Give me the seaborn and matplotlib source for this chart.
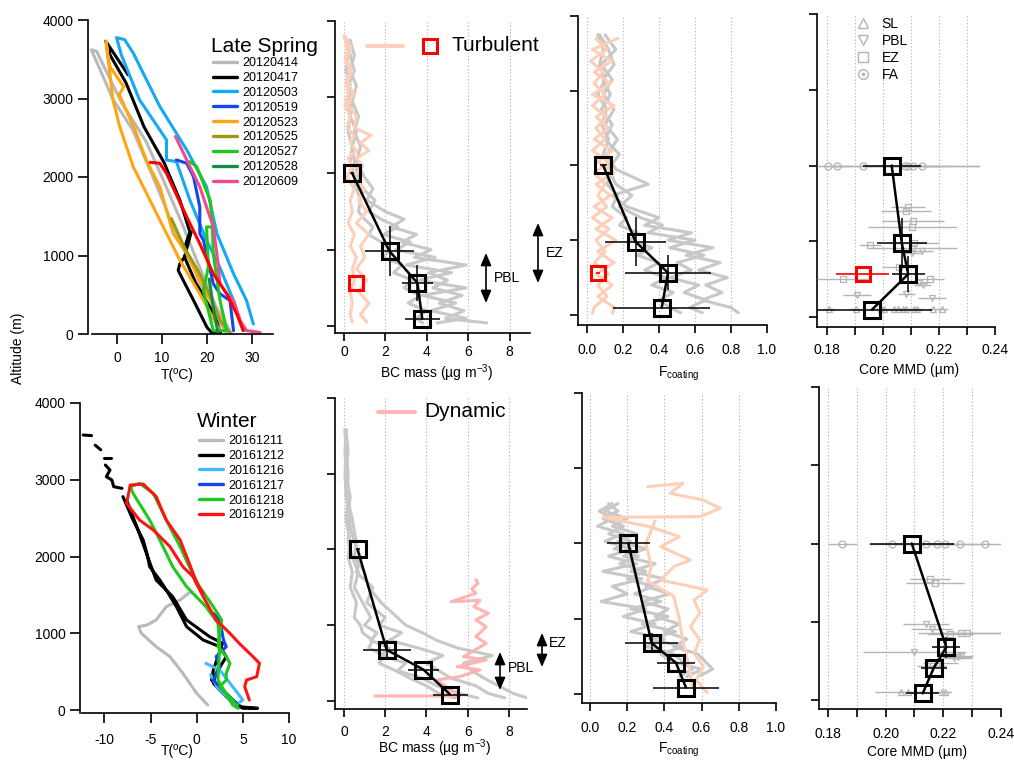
import matplotlib
matplotlib.use("Agg")
import matplotlib.pyplot as plt
import seaborn as sns
from matplotlib.lines import Line2D
from matplotlib.patches import FancyArrowPatch

# ---------------- temperature profiles, late spring (degC / m) ----------------
t_20120414 = [24.5, 20, 17, 13, 8, 3.5, -1, -4, -5.7, -4.5, -2, 1, 6.5, 10, 14.5, 18, 22, 25.5]
z_20120414 = [0, 400, 850, 1300, 2000, 2600, 3000, 3400, 3620, 3600, 3300, 2950, 2450, 2000, 1400, 900, 350, 0]
t_20120417 = [2.5, -2.5, -1.5, 2, 6, 10.5, 14, 16.2, 15, 15.5, 14, 13.6, 17, 20, 21, 23, 22.5, 21.5, 17.5, 15, 16.5]
z_20120417 = [3300, 3730, 3550, 3200, 2640, 2180, 1700, 1300, 1100, 1020, 900, 810, 430, 85, 20, 20, 100, 260, 650, 980, 1300]
t_20120503 = [30.3, 28.8, 25.9, 22.2, 19.9, 15.5, 9.5, 3.6, 1.7, -0.1, 1, 5, 11, 11, 13.2, 16.2, 19.9, 21.4, 22.2, 25.9, 28]
z_20120503 = [128, 426, 767, 1280, 1876, 2345, 2900, 3580, 3750, 3775, 3550, 2985, 2473, 2217, 2196, 1705, 1194, 1023, 938, 426, 43]
t_20120519 = [13.2, 15.5, 17, 18.4, 18.4, 19.2, 21.4, 22.9, 25.1, 25.9]
z_20120519 = [2217, 2175, 2004, 1620, 1280, 1194, 640, 512, 426, 43]
t_20120523 = [22.9, 18.4, 14, 8.8, 3.6, 0.6, -0.9, -2.4, -2.2, -1.6, 1.5, 0.5, 1.3, 4, 6.5, 9.5, 12.5, 15.5, 19.2, 24.4]
z_20120523 = [43, 512, 938, 1535, 2132, 2644, 2985, 3730, 3600, 3411, 3150, 3050, 2950, 2600, 2217, 1876, 1280, 1023, 597, 43]
t_20120525 = [12.1, 15, 18.4, 21, 22.9, 25.1]
z_20120525 = [1470, 1100, 767, 450, 170, 20]
t_20120527 = [16.2, 17.7, 20.7, 21.4, 19.9, 20.3, 19.2, 21.4, 24.4, 22.9, 21.4, 21.2]
z_20120527 = [2196, 2132, 1705, 1364, 1364, 853, 554, 43, 43, 426, 1023, 1364]
t_20120528 = [20.5, 21.5, 22.5]
z_20120528 = [700, 300, 0]
t_20120609 = [13, 15.5, 18.4, 21.4, 22.2, 22.9, 24.4, 25.9, 27.4, 28.8, 31.8]
z_20120609 = [2516, 2217, 1876, 1364, 1023, 640, 512, 426, 170, 43, 20]
t_spring_red = [7.4, 9.5, 11, 15.5, 18.4, 21.4, 24.4, 26.6, 28.1]
z_spring_red = [2187, 2175, 2047, 1492, 1151, 767, 512, 256, 43]

spring_dates = ["20120414", "20120417", "20120503", "20120519", "20120523",
                "20120525", "20120527", "20120528", "20120609"]
spring_colors = ["#b9b9b9", "#000000", "#14a8f5", "#1446f0", "#ffa514",
                 "#9c9a14", "#1ec81e", "#148c46", "#f04b8c"]

# ---------------- temperature profiles, winter ----------------
t_20161211 = [1.2, 0, -1.5, -2.9, -4.4, -6, -6.3, -5.4, -4.4, -3.3, -1.8, -0.9, -0.6]
z_20161211 = [65, 217, 478, 695, 825, 999, 1086, 1107, 1173, 1346, 1433, 1520, 1541]
t_20161212_a = [-12.3, -11.4]
z_20161212_a = [3583, 3575]
t_20161212_b = [-11.0, -10.4]
z_20161212_b = [3450, 3390]
t_20161212_c = [-10.0, -9.3]
z_20161212_c = [3285, 3285]
t_20161212_d = [-9.9, -9.4, -9.8, -9.2, -9.0, -8.1]
z_20161212_d = [3192, 3127, 3040, 2997, 2910, 2888]
t_20161212 = [-8.0, -6.9, -5.8, -5.4, -5.1, -4.0, -3.3, -2.2, -1.1, 0.7, 2.5, 3.2, 2.1, 1.8, 3.2, 4.6,
              6.6, 5.0, 3.9, 1.6, 1.8, 2.8, 1.4, -1.1, -2.6, -4.4, -6.5, -7.6]
z_20161212 = [2780, 2475, 2215, 2041, 1867, 1694, 1563, 1346, 1086, 912, 825, 695, 478, 347, 174, 43,
              22, 22, 130, 391, 521, 869, 955, 1173, 1477, 1694, 2389, 2736]
t_20161216 = [1.0, 2.5, 3.9, 5.0, 4.2, 2.2, 1.5]
z_20161216 = [608, 520, 304, 130, 60, 300, 460]
t_20161217 = [1.8, 2.5, 2.9, 3.2, 2.1, 2.5, 1.8, 3.2, 4.3]
z_20161217 = [1259, 1173, 912, 825, 695, 565, 391, 217, 87]
t_20161218 = [-7.2, -6.2, -4.7, -3.3, -1.8, -0.8, 0.3, 1.8, 2.7, 2.5, 2.3, 3.2, 3.6, 3.2, 3.2, 2.5, 3.9, 4.5,
              3.9, 2.3, 2.5, 2.3, 1.0, -1.1, -2.6, -4.0, -5.1, -6.9, -7.2]
z_20161218 = [2910, 2953, 2823, 2475, 2128, 1867, 1607, 1346, 1173, 999, 825, 695, 608, 478, 391, 304, 130, 22,
              65, 391, 825, 1129, 1346, 1607, 1867, 2215, 2475, 2823, 2910]
t_20161219 = [0.7, 0.0, -0.8, -1.8, -3.3, -4.4, -5.8, -7.2, -7.6, -6.2, -4.7, -2.9, -1.5, -0.4, 0.7, 2.1,
              3.6, 4.6, 6.1, 6.8, 6.5, 5.4, 5.2, 5.7]
z_20161219 = [1520, 1650, 1910, 2215, 2475, 2780, 2944, 2931, 2693, 2475, 2345, 2128, 1867, 1737, 1477, 1173,
              999, 869, 695, 608, 434, 391, 304, 130]

winter_dates = ["20161211", "20161212", "20161216", "20161217", "20161218", "20161219"]
winter_colors = ["#b9b9b9", "#000000", "#3cbcff", "#1446f0", "#1ec81e", "#ff1414"]

# ---------------- BC mass profiles (ug m-3) ----------------
bc_alt_spring = [3750, 3550, 3350, 3150, 2950, 2750, 2550, 2350, 2150, 1950, 1800, 1650, 1500, 1400,
                 1300, 1200, 1100, 1000, 900, 800, 700, 600, 500, 400, 300, 200, 100, 40]
bc_gray_s1 = [0.3, 0.5, 0.3, 0.6, 0.4, 0.7, 0.5, 0.8, 0.6, 1.0, 1.4, 1.1, 2.0, 2.9, 2.3, 3.5, 2.8, 4.2,
              3.4, 5.9, 4.1, 5.0, 4.3, 5.7, 4.6, 5.8, 4.9, 6.9]
bc_gray_s2 = [0.2, 0.3, 0.5, 0.2, 0.4, 0.3, 0.6, 0.4, 0.5, 0.7, 0.9, 1.5, 1.2, 1.8, 2.6, 1.9, 3.2, 2.5,
              4.4, 3.0, 5.2, 3.6, 5.9, 3.8, 5.4, 4.2, 5.9, 4.5]
bc_gray_s3 = [0.1, 0.2, 0.1, 0.3, 0.2, 0.3, 0.2, 0.4, 0.3, 0.5, 0.6, 0.8, 0.7, 1.0, 1.4, 1.2, 1.8, 2.2,
              1.9, 2.8, 2.4, 3.3, 2.9, 3.7, 3.1, 4.0, 3.5, 3.8]
bc_peach_alt = [3800, 3650, 3500, 3350, 3200, 3050, 2900, 2750, 2600, 2500, 2400, 2300, 2200, 2100,
                1950, 1800, 1650, 1500, 1350, 1200, 1050, 900, 750, 600, 450, 300, 150, 50]
bc_peach_s1 = [0.05, 0.35, 0.1, 0.4, 0.15, 0.45, 0.2, 0.6, 0.5, 1.3, 0.8, 1.2, 0.6, 0.9, 0.5, 1.0,
               0.7, 1.1, 0.6, 1.2, 0.8, 1.0, 0.6, 1.1, 0.7, 1.2, 0.8, 1.1]
bc_peach_s2 = [0.0, 0.2, 0.05, 0.3, 0.1, 0.2, 0.05, 0.3, 0.15, 0.5, 0.3, 0.6, 0.2, 0.4, 0.15, 0.5,
               0.3, 0.4, 0.2, 0.5, 0.3, 0.6, 0.4, 0.5, 0.3, 0.4, 0.3, 0.4]

bc_alt_winter = [3580, 3300, 3000, 2700, 2400, 2100, 1900, 1700, 1500, 1300, 1100, 1000, 900, 800,
                 700, 600, 500, 400, 300, 200, 100, 40]
bc_gray_w1 = [0.05, 0.1, 0.2, 0.15, 0.4, 0.6, 0.5, 1.0, 1.2, 1.8, 2.6, 3.0, 3.8, 4.5, 5.5, 7.2, 5.8,
              6.2, 6.8, 7.5, 8.2, 8.9]
bc_gray_w2 = [0.1, 0.05, 0.1, 0.3, 0.2, 0.5, 0.8, 0.6, 1.4, 1.1, 2.0, 1.7, 2.8, 2.2, 3.6, 4.8, 4.0,
              4.6, 5.2, 6.4, 7.0, 7.8]
bc_gray_w3 = [0.05, 0.1, 0.05, 0.1, 0.3, 0.2, 0.4, 0.7, 0.5, 0.9, 1.3, 1.0, 1.6, 1.3, 2.2, 1.8, 3.0,
              2.6, 3.8, 4.5, 5.6, 6.5]
bc_gray_w4 = [0.1, 0.2, 0.1, 0.2, 0.1, 0.3, 0.2, 0.4, 0.3, 0.6, 0.5, 0.8, 0.9, 1.4, 1.2, 2.0, 1.7,
              2.5, 3.2, 4.0, 4.6, 5.4]
bc_dynamic = [1.5, 5.6, 4.5, 5.6, 6.6, 5.5, 6.9, 5.8, 6.9, 6.4, 6.9, 6.4, 7.0, 6.3, 6.6, 5.2, 6.4,
              6.2, 6.5, 6.4]
bc_dynamic_alt = [66, 66, 277, 321, 409, 453, 541, 585, 760, 849, 981, 1069, 1157, 1245, 1330, 1311,
                  1421, 1480, 1553, 1600]

# ---------------- F_coating profiles ----------------
f_alt_spring = [3750, 3550, 3350, 3150, 2950, 2750, 2550, 2350, 2150, 1950, 1750, 1600, 1450, 1300,
                1200, 1100, 1000, 900, 800, 700, 600, 500, 400, 300, 200, 100, 30]
f_gray_s1 = [0.10, 0.16, 0.08, 0.14, 0.09, 0.15, 0.10, 0.17, 0.11, 0.16, 0.34, 0.14, 0.22, 0.40, 0.32,
             0.58, 0.45, 0.70, 0.55, 0.74, 0.62, 0.78, 0.66, 0.75, 0.64, 0.80, 0.84]
f_gray_s2 = [0.07, 0.12, 0.15, 0.09, 0.13, 0.08, 0.14, 0.10, 0.18, 0.12, 0.16, 0.25, 0.18, 0.30, 0.42,
             0.34, 0.60, 0.46, 0.65, 0.50, 0.58, 0.46, 0.62, 0.54, 0.66, 0.57, 0.64]
f_gray_s3 = [0.06, 0.09, 0.07, 0.10, 0.06, 0.11, 0.08, 0.12, 0.09, 0.14, 0.11, 0.17, 0.14, 0.22, 0.18,
             0.28, 0.24, 0.36, 0.28, 0.40, 0.32, 0.44, 0.36, 0.48, 0.40, 0.46, 0.52]
f_peach_alt = [3700, 3550, 3400, 3250, 3100, 2950, 2800, 2650, 2500, 2350, 2200, 2050, 1900, 1750,
               1600, 1450, 1300, 1150, 1000, 850, 700, 550, 400, 250, 100, 20]
f_peach_s1 = [0.17, 0.03, 0.14, 0.04, 0.13, 0.03, 0.15, 0.05, 0.12, 0.04, 0.14, 0.06, 0.15, 0.05,
              0.13, 0.04, 0.14, 0.05, 0.16, 0.06, 0.15, 0.05, 0.14, 0.06, 0.15, 0.14]
f_peach_s2 = [0.05, 0.11, 0.02, 0.09, 0.04, 0.10, 0.03, 0.11, 0.05, 0.10, 0.03, 0.12, 0.04, 0.10,
              0.06, 0.11, 0.03, 0.12, 0.05, 0.10, 0.04, 0.12, 0.06, 0.11, 0.04, 0.03]

f_alt_winter = [2530, 2430, 2330, 2230, 2130, 2030, 1930, 1830, 1730, 1630, 1530, 1430, 1330, 1230,
                1130, 1030, 930, 830, 730, 630, 530, 430, 330, 230]
f_gray_w1 = [0.15, 0.08, 0.20, 0.12, 0.25, 0.15, 0.30, 0.18, 0.35, 0.22, 0.40, 0.30, 0.43, 0.28, 0.42,
             0.35, 0.48, 0.40, 0.52, 0.45, 0.58, 0.62, 0.66, 0.58]
f_gray_w2 = [0.12, 0.05, 0.12, 0.04, 0.18, 0.08, 0.22, 0.10, 0.25, 0.07, 0.28, 0.12, 0.20, 0.06, 0.30,
             0.18, 0.35, 0.22, 0.40, 0.30, 0.45, 0.50, 0.55, 0.48]
f_gray_w3 = [0.10, 0.15, 0.07, 0.18, 0.10, 0.22, 0.13, 0.26, 0.16, 0.30, 0.20, 0.34, 0.24, 0.38, 0.22,
             0.42, 0.28, 0.46, 0.32, 0.50, 0.38, 0.44, 0.60, 0.52]
f_dyn_1 = [0.31, 0.50, 0.43, 0.61, 0.70, 0.59, 0.07, 0.32, 0.48, 0.38, 0.54, 0.45, 0.38, 0.63, 0.56,
           0.59, 0.54, 0.59, 0.56, 0.61, 0.57, 0.63]
f_dyn_1_alt = [2755, 2800, 2667, 2578, 2467, 2357, 2348, 2224, 2091, 1958, 1781, 1692, 1515, 1382,
               1249, 1072, 895, 718, 540, 363, 186, 20]
f_dyn_2 = [0.35, 0.30, 0.33, 0.31, 0.45, 0.48, 0.50, 0.53, 0.55]
f_dyn_2_alt = [2300, 2000, 1700, 1500, 1300, 1000, 700, 400, 100]

# ---------------- layer means (FA, EZ, PBL, SL) ----------------
spring_alt = [2000, 980, 565, 95]
spring_alt_err = [0, 330, 235, 0]
spring_bc = [0.4, 2.2, 3.55, 3.78]
spring_bc_err = [0.1, 1.2, 0.75, 0.85]
spring_f = [0.09, 0.27, 0.45, 0.415]
spring_f_err = [0.02, 0.17, 0.24, 0.27]
spring_mmd = [0.2031, 0.2067, 0.2090, 0.1960]
spring_mmd_err = [0.0104, 0.0089, 0.0059, 0.0214]
turb_alt = [565]
turb_bc = [0.58]
turb_f = [0.06]
turb_mmd = [0.1927]
turb_mmd_err = [0.0095]

winter_alt = [2000, 675, 415, 85]
winter_alt_err = [0, 135, 0, 0]
winter_bc = [0.66, 2.07, 3.85, 5.15]
winter_bc_err = [0.1, 1.17, 0.75, 0.85]
winter_f = [0.206, 0.332, 0.462, 0.516]
winter_f_err = [0.114, 0.143, 0.10, 0.178]
winter_mmd = [0.2091, 0.2211, 0.2168, 0.2129]
winter_mmd_err = [0.0145, 0.0049, 0.0045, 0.0058]

# individual flight core MMD (x, err, altitude)
s_fa_x = [0.1803, 0.1837, 0.1927, 0.2079, 0.2090, 0.2108, 0.2138]
s_fa_e = [0.004, 0.005, 0.012, 0.026, 0.015, 0.010, 0.021]
s_fa_z = [2000, 2000, 2000, 2000, 2000, 2000, 2000]
s_ez_x = [0.2090, 0.2083, 0.2108, 0.2105, 0.2111, 0.1954, 0.2105, 0.2057, 0.1856, 0.2168]
s_ez_e = [0.006, 0.009, 0.011, 0.016, 0.009, 0.004, 0.016, 0.006, 0.009, 0.005]
s_ez_z = [1456, 1395, 1271, 1192, 980, 950, 905, 664, 497, 497]
s_pbl_x = [0.2138, 0.2105, 0.2130, 0.2142, 0.2083, 0.1906, 0.2174]
s_pbl_e = [0.004, 0.003, 0.003, 0.003, 0.003, 0.005, 0.005]
s_pbl_z = [875, 844, 445, 425, 310, 290, 247]
s_sl_x = [0.1807, 0.1902, 0.1992, 0.2004, 0.2040, 0.2052, 0.2070, 0.2082, 0.2111, 0.2123, 0.2180, 0.2212]
s_sl_e = [0.002, 0.002, 0.002, 0.002, 0.002, 0.002, 0.002, 0.002, 0.002, 0.002, 0.002, 0.002]
s_sl_z = [110, 110, 110, 110, 110, 110, 110, 110, 110, 110, 110, 110]

w_fa_x = [0.1850, 0.2024, 0.2140, 0.2179, 0.2206, 0.2258, 0.2345]
w_fa_e = [0.005, 0.008, 0.010, 0.012, 0.006, 0.010, 0.006]
w_fa_z = [2000, 2000, 2000, 2000, 2000, 2000, 2000]
w_ez_x = [0.2154, 0.2172, 0.2263, 0.2284, 0.2225]
w_ez_e = [0.007, 0.010, 0.015, 0.012, 0.008]
w_ez_z = [1548, 1496, 851, 851, 840]
w_pbl_x = [0.2140, 0.2160, 0.2100, 0.2237, 0.2250, 0.2262, 0.2160, 0.2190]
w_pbl_e = [0.008, 0.007, 0.018, 0.006, 0.005, 0.004, 0.005, 0.006]
w_pbl_z = [967, 911, 610, 537, 550, 560, 430, 470]
w_sl_x = [0.2052, 0.2079, 0.2197, 0.2208]
w_sl_e = [0.009, 0.004, 0.003, 0.002]
w_sl_z = [100, 100, 100, 100]

# ---------------- style ----------------
sns.set_theme(style="ticks")
plt.rcParams["font.family"] = ["Liberation Sans", "DejaVu Sans"]
plt.rcParams["axes.unicode_minus"] = False
plt.rcParams["axes.edgecolor"] = "black"
plt.rcParams["xtick.color"] = "black"
plt.rcParams["ytick.color"] = "black"
plt.rcParams["text.color"] = "black"
plt.rcParams["axes.labelcolor"] = "black"

GRAY = "#c8c8c8"
PEACH = "#fdcfb8"
PINK = "#ffb3b3"
MGRAY = "#b4b4b4"

W, H = 1014, 762
fig = plt.figure(figsize=(W / 100, H / 100), dpi=100)


def add_ax(x0, y0, x1, y1):
    return fig.add_axes([x0 / W, 1 - y1 / H, (x1 - x0) / W, (y1 - y0) / H])


def fx(px):
    return px / W


def fy(py):
    return 1 - py / H


def style(ax, xlim, ylim, xticks, xlabels, ylab=False, grid=False, pad=6, tlen=5.5):
    ax.set_xlim(*xlim)
    ax.set_ylim(*ylim)
    sns.despine(ax=ax)
    for s in ("left", "bottom"):
        ax.spines[s].set_linewidth(1.2)
    ax.set_xticks(xticks)
    ax.set_xticklabels(xlabels)
    ax.set_yticks([0, 1000, 2000, 3000, 4000])
    if ylab:
        ax.set_yticklabels(["0", "1000", "2000", "3000", "4000"])
    else:
        ax.set_yticklabels([])
    ax.tick_params(axis="both", direction="out", length=tlen, width=1.2, labelsize=10)
    ax.tick_params(axis="x", pad=pad)
    ax.tick_params(axis="y", pad=3)
    if grid:
        for xv in xticks:
            ax.axvline(xv, color="#b0b0b0", lw=0.8, ls=(0, (1, 2)), zorder=0)


def xlab(ax, text, x, y):
    ax.set_xlabel(text, fontsize=10)
    ax.xaxis.set_label_coords(x, y)
    ax.xaxis.label.set_va("top")


def prof(ax, x, y, color, lw=2.2, z=2):
    sns.lineplot(x=x, y=y, sort=False, estimator=None, color=color, lw=lw, ax=ax, zorder=z)


def means(ax, x, y, xerr, yerr):
    ax.errorbar(x, y, xerr=xerr, yerr=yerr, fmt="none", ecolor="black", elinewidth=1.1, zorder=5)
    sns.lineplot(x=x, y=y, sort=False, estimator=None, color="black", lw=1.8, marker="s",
                 markersize=11, markerfacecolor="none", markeredgecolor="black",
                 markeredgewidth=2.2, ax=ax, zorder=6)


def red_box(ax, x, y, xerr=None):
    if xerr is not None:
        ax.errorbar(x, y, xerr=xerr, fmt="none", ecolor="red", elinewidth=1.2, zorder=6)
    ax.plot(x, y, ls="none", marker="s", ms=10, mfc="none", mec="red", mew=2.2, zorder=7)


def gray_pts(ax, x, e, z, marker):
    ax.errorbar(x, z, xerr=e, fmt=marker, mfc="none", mec=MGRAY, ecolor=MGRAY, ms=5,
                mew=0.9, elinewidth=1.0, zorder=3)


def arrow(x, y0, y1):
    fig.add_artist(FancyArrowPatch(
        (fx(x), fy(y1)), (fx(x), fy(y0)), transform=fig.transFigure,
        arrowstyle="<|-|>,head_length=0.75,head_width=0.32", color="black", lw=1.2,
        mutation_scale=10, shrinkA=0, shrinkB=0))


def date_legend(ax, colors, dates, title, tx, ty, lx, ly):
    fig.text(fx(tx), fy(ty), title, fontsize=15, va="center", ha="left")
    hs = [Line2D([], [], color=c, lw=2.4) for c in colors]
    ax.legend(hs, dates, loc="upper left", bbox_to_anchor=(fx(lx), fy(ly)),
              bbox_transform=fig.transFigure, frameon=False, fontsize=9, handlelength=1.9,
              handletextpad=0.45, labelspacing=0.23, borderaxespad=0, borderpad=0)


# ================= top row: late spring =================
ax1 = add_ax(88, 20, 273, 334)
spring_t = [t_20120414, t_20120417, t_20120503, t_20120519, t_20120523,
            t_20120525, t_20120527, t_20120528, t_20120609]
spring_z = [z_20120414, z_20120417, z_20120503, z_20120519, z_20120523,
            z_20120525, z_20120527, z_20120528, z_20120609]
for t, zz, c in zip(spring_t, spring_z, spring_colors):
    prof(ax1, t, zz, c)
prof(ax1, t_spring_red, z_spring_red, "#ff0000")
style(ax1, (-6.44, 34.67), (0, 4000), [0, 10, 20, 30], ["0", "10", "20", "30"], ylab=True,
      pad=4.5, tlen=7.5)
ax1.spines["bottom"].set_bounds(-5.56, 34.67)
xlab(ax1, "T(ºC)", 0.48, -0.108)
date_legend(ax1, spring_colors, spring_dates, "Late Spring", 211, 47, 213, 57)

ax2 = add_ax(335, 21, 530, 333)
for g in (bc_gray_s1, bc_gray_s2, bc_gray_s3):
    prof(ax2, g, bc_alt_spring, GRAY)
for p in (bc_peach_s1, bc_peach_s2):
    prof(ax2, p, bc_peach_alt, PEACH, z=3)
means(ax2, spring_bc, spring_alt, spring_bc_err, spring_alt_err)
red_box(ax2, turb_bc, turb_alt)
style(ax2, (-0.435, 8.99), (-92, 4000), [0, 2, 4, 6, 8], ["0", "2", "4", "6", "8"], grid=True, pad=3.2)
xlab(ax2, "BC mass (µg m$^{\\mathregular{-3}}$)", 0.52, -0.093)
ax2.plot([0.164, 0.349], [0.92, 0.92], color=PEACH, lw=2.8, transform=ax2.transAxes, clip_on=False)
ax2.plot([0.487], [0.92], marker="s", ms=10, mfc="none", mec="red", mew=2.2,
         transform=ax2.transAxes, clip_on=False)
ax2.text(0.6, 0.92, "Turbulent", fontsize=15, va="center", transform=ax2.transAxes)

arrow(486, 253, 303)
fig.text(fx(494), fy(278), "PBL", fontsize=10, va="center")
arrow(538, 223, 283)
fig.text(fx(546), fy(253), "EZ", fontsize=10, va="center")

ax3 = add_ax(578, 16, 767, 325)
for g in (f_gray_s1, f_gray_s2, f_gray_s3):
    prof(ax3, g, f_alt_spring, GRAY)
for p in (f_peach_s1, f_peach_s2):
    prof(ax3, p, f_peach_alt, PEACH, z=3)
means(ax3, spring_f, spring_alt, spring_f_err, spring_alt_err)
red_box(ax3, turb_f, turb_alt, xerr=[0.01])
style(ax3, (-0.05, 1.0), (-134, 4000), [0, 0.2, 0.4, 0.6, 0.8, 1.0],
      ["0.0", "0.2", "0.4", "0.6", "0.8", "1.0"], grid=True, pad=7.5)
xlab(ax3, "F$_{\\mathregular{coating}}$", 0.53, -0.13)

ax4 = add_ax(817, 14, 995, 327)
gray_pts(ax4, s_fa_x, s_fa_e, s_fa_z, "o")
gray_pts(ax4, s_ez_x, s_ez_e, s_ez_z, "s")
gray_pts(ax4, s_pbl_x, s_pbl_e, s_pbl_z, "v")
gray_pts(ax4, s_sl_x, s_sl_e, s_sl_z, "^")
means(ax4, spring_mmd, spring_alt, spring_mmd_err, spring_alt_err)
red_box(ax4, turb_mmd, turb_alt, xerr=turb_mmd_err)
mmd_ticks = [0.18, 0.19, 0.20, 0.21, 0.22, 0.23, 0.24]
mmd_labels = ["0.18", "", "0.20", "", "0.22", "", "0.24"]
style(ax4, (0.17643, 0.24), (-132, 4000), mmd_ticks, mmd_labels, grid=True, pad=6)
xlab(ax4, "Core MMD (µm)", 0.52, -0.115)
h4 = [Line2D([], [], ls="none", marker="^", ms=7, mfc="none", mec=MGRAY, mew=1.0),
      Line2D([], [], ls="none", marker="v", ms=7, mfc="none", mec=MGRAY, mew=1.0),
      Line2D([], [], ls="none", marker="s", ms=7, mfc="none", mec=MGRAY, mew=1.0),
      (Line2D([], [], ls="none", marker="o", ms=7, mfc="none", mec=MGRAY, mew=1.0),
       Line2D([], [], ls="none", marker="o", ms=1.6, color=MGRAY))]
ax4.legend(h4, ["SL", "PBL", "EZ", "FA"], loc="upper left", bbox_to_anchor=(fx(856), fy(17)),
           bbox_transform=fig.transFigure, frameon=False, fontsize=10, handlelength=1.0,
           handletextpad=0.85, labelspacing=0.21, borderaxespad=0, borderpad=0)

# ================= bottom row: winter =================
ax5 = add_ax(80, 403, 289, 713)
prof(ax5, t_20161211, z_20161211, winter_colors[0])
for ts, zs in ((t_20161212_a, z_20161212_a), (t_20161212_b, z_20161212_b),
               (t_20161212_c, z_20161212_c), (t_20161212_d, z_20161212_d),
               (t_20161212, z_20161212)):
    prof(ax5, ts, zs, winter_colors[1])
prof(ax5, t_20161216, z_20161216, winter_colors[2])
prof(ax5, t_20161217, z_20161217, winter_colors[3])
prof(ax5, t_20161218, z_20161218, winter_colors[4])
prof(ax5, t_20161219, z_20161219, winter_colors[5])
style(ax5, (-12.65, 10), (-39, 4000), [-10, -5, 0, 5, 10], ["-10", "-5", "0", "5", "10"],
      ylab=True, pad=7, tlen=7.5)
ax5.spines["bottom"].set_bounds(-12.43, 10)
xlab(ax5, "T(ºC)", 0.464, -0.1)
date_legend(ax5, winter_colors, winter_dates, "Winter", 197, 421, 199, 435)

ax6 = add_ax(335, 398, 527, 709)
for g in (bc_gray_w1, bc_gray_w2, bc_gray_w3, bc_gray_w4):
    prof(ax6, g, bc_alt_winter, GRAY)
prof(ax6, bc_dynamic, bc_dynamic_alt, PINK, z=3)
means(ax6, winter_bc, winter_alt, winter_bc_err, winter_alt_err)
style(ax6, (-0.437, 8.88), (-106, 4000), [0, 2, 4, 6, 8], ["0", "2", "4", "6", "8"], grid=True, pad=6)
xlab(ax6, "BC mass (µg m$^{\\mathregular{-3}}$)", 0.52, -0.09)
ax6.plot([0.224, 0.417], [0.955, 0.955], color=PINK, lw=2.8, transform=ax6.transAxes, clip_on=False)
ax6.text(0.465, 0.955, "Dynamic", fontsize=15, va="center", transform=ax6.transAxes)

arrow(500, 652, 690)
fig.text(fx(508), fy(668), "PBL", fontsize=10, va="center")
arrow(542, 633, 667)
fig.text(fx(549), fy(643), "EZ", fontsize=10, va="center")

ax7 = add_ax(582, 393, 776, 703)
for g in (f_gray_w1, f_gray_w2, f_gray_w3):
    prof(ax7, g, f_alt_winter, GRAY)
prof(ax7, f_dyn_1, f_dyn_1_alt, PEACH, z=3)
prof(ax7, f_dyn_2, f_dyn_2_alt, PEACH, z=3)
means(ax7, winter_f, winter_alt, winter_f_err, winter_alt_err)
style(ax7, (-0.043, 1.0), (-120, 4000), [0, 0.2, 0.4, 0.6, 0.8, 1.0],
      ["0.0", "0.2", "0.4", "0.6", "0.8", "1.0"], grid=True, pad=7.5)
xlab(ax7, "F$_{\\mathregular{coating}}$", 0.5, -0.123)

ax8 = add_ax(819, 387, 1001, 709)
gray_pts(ax8, w_fa_x, w_fa_e, w_fa_z, "o")
gray_pts(ax8, w_ez_x, w_ez_e, w_ez_z, "s")
gray_pts(ax8, w_pbl_x, w_pbl_e, w_pbl_z, "v")
gray_pts(ax8, w_sl_x, w_sl_e, w_sl_z, "^")
means(ax8, winter_mmd, winter_alt, winter_mmd_err, winter_alt_err)
style(ax8, (0.17687, 0.2401), (-115, 4000), mmd_ticks, mmd_labels, grid=True, pad=7.5)
xlab(ax8, "Core MMD (µm)", 0.54, -0.112)

fig.text(fx(18), fy(348), "Altitude (m)", rotation=90, va="center", ha="center", fontsize=10)

fig.savefig("out.png", dpi=100, facecolor="white")
